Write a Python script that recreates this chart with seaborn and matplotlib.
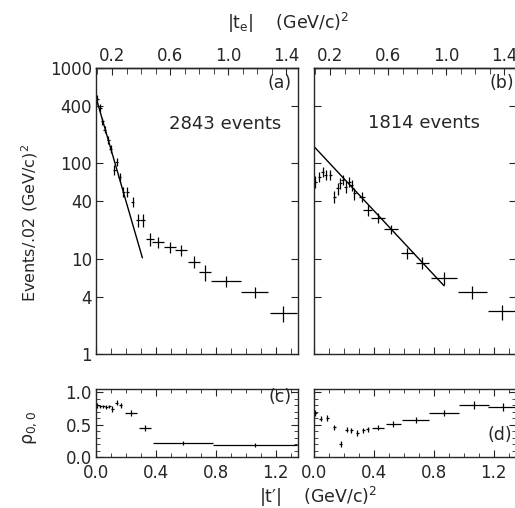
# Load the necessary libraries
import matplotlib
matplotlib.use("Agg")
import matplotlib.pyplot as plt
import matplotlib.ticker as mticker
import seaborn as sns
import numpy as np
import pandas as pd

##################
# Data (read off) #
##################

# Panel (a): events / .02 (GeV/c)^2 vs |t'|
t_a = [0.01, 0.027, 0.042, 0.06, 0.082, 0.10, 0.122, 0.138, 0.16, 0.182, 0.209, 0.244,
       0.282, 0.311, 0.36, 0.415, 0.493, 0.571, 0.653, 0.731, 0.87, 1.06, 1.25]
n_a = [470, 384, 277, 226, 177, 141, 85, 104, 72, 50, 50, 39.5,
       25.7, 25.7, 16.2, 14.9, 13.2, 12.2, 9.3, 7.2, 5.8, 4.5, 2.66]
dt_a = [0.01, 0.01, 0.01, 0.01, 0.01, 0.01, 0.01, 0.01, 0.01, 0.01, 0.01, 0.01,
        0.015, 0.015, 0.025, 0.04, 0.04, 0.04, 0.04, 0.04, 0.1, 0.09, 0.09]
dn_a = [50, 35, 25, 20, 16, 13, 10, 10, 8, 6, 6, 5,
        4, 4, 2.5, 2, 1.7, 1.6, 1.3, 1.3, 0.8, 0.6, 0.5]
fit_a_t = [0.0, 0.31]
fit_a_n = [490, 10.2]

# Panel (b)
t_b = [0.01, 0.036, 0.058, 0.08, 0.109, 0.136, 0.158, 0.176, 0.191, 0.213, 0.236,
       0.251, 0.269, 0.318, 0.358, 0.429, 0.513, 0.624, 0.724, 0.869, 1.058, 1.258]
n_b = [64, 72, 82, 75.5, 75.5, 44.6, 54.6, 61.6, 66.8, 57, 64,
       59, 48.3, 44.6, 32.2, 26.9, 20.3, 11.4, 9.0, 6.3, 4.5, 2.8]
dt_b = [0.01, 0.01, 0.01, 0.01, 0.01, 0.01, 0.01, 0.01, 0.01, 0.01, 0.01,
        0.01, 0.01, 0.02, 0.03, 0.047, 0.047, 0.045, 0.045, 0.09, 0.095, 0.095]
dn_b = [9, 9, 10, 9, 9, 6.5, 8, 8, 8, 8, 8,
        8, 7, 5, 4, 3, 2.2, 1.5, 1.3, 1.0, 0.7, 0.5]
fit_b_t = [0.0, 0.869]
fit_b_n = [150, 5.2]

# Panel (c): rho_00
t_c = [0.01, 0.03, 0.05, 0.07, 0.09, 0.11, 0.14, 0.165, 0.235, 0.33, 0.58, 1.06]
r_c = [0.80, 0.78, 0.78, 0.77, 0.78, 0.74, 0.84, 0.80, 0.68, 0.45, 0.21, 0.19]
dt_c = [0.01, 0.01, 0.01, 0.01, 0.01, 0.01, 0.01, 0.01, 0.04, 0.04, 0.2, 0.28]
dr_c = [0.04, 0.03, 0.03, 0.03, 0.03, 0.04, 0.04, 0.04, 0.04, 0.05, 0.03, 0.03]

# Panel (d)
t_d = [0.01, 0.045, 0.09, 0.135, 0.18, 0.22, 0.25, 0.29, 0.33, 0.36, 0.43, 0.53,
       0.68, 0.87, 1.07, 1.26]
r_d = [0.68, 0.59, 0.60, 0.46, 0.20, 0.42, 0.41, 0.37, 0.41, 0.43, 0.45, 0.51,
       0.57, 0.68, 0.80, 0.77]
dt_d = [0.01, 0.01, 0.01, 0.01, 0.01, 0.01, 0.01, 0.01, 0.01, 0.01, 0.04, 0.05,
        0.09, 0.1, 0.1, 0.1]
dr_d = [0.05, 0.04, 0.05, 0.04, 0.05, 0.04, 0.04, 0.04, 0.04, 0.04, 0.04, 0.04,
        0.04, 0.05, 0.06, 0.06]

count_ticks = [1, 4, 10, 40, 100, 400, 1000]
count_labels = ["1", "4", "10", "40", "100", "400", "1000"]
te_ticks = [0.2, 0.6, 1.0, 1.4]

###########
# Styling #
###########
sns.set_style("ticks")
plt.rcParams['font.family'] = ['DejaVu Sans']
plt.rcParams['mathtext.default'] = 'regular'
plt.rcParams['axes.linewidth'] = 1.0

fig = plt.figure(figsize=(5.15, 5.08), dpi=100)
W, H = 515, 508


def box(x0, y0, x1, y1):
    return [x0 / W, 1 - y1 / H, (x1 - x0) / W, (y1 - y0) / H]


ax_a = fig.add_axes(box(96, 68, 298, 354))
ax_b = fig.add_axes(box(314, 68, 516, 354))
ax_c = fig.add_axes(box(96, 389, 298, 457))
ax_d = fig.add_axes(box(314, 389, 516, 457))


def draw_points(ax, t, y, dt, dy):
    ax.errorbar(t, y, xerr=dt, yerr=dy, fmt='none', ecolor='black',
                elinewidth=0.9, capsize=0)


def te_fwd(t):
    return 1.029 * np.asarray(t) + 0.09


def te_inv(te):
    return (np.asarray(te) - 0.09) / 1.029


# Upper panels
for ax, t, n, dt, dn, ft, fn in [(ax_a, t_a, n_a, dt_a, dn_a, fit_a_t, fit_a_n),
                                 (ax_b, t_b, n_b, dt_b, dn_b, fit_b_t, fit_b_n)]:
    draw_points(ax, t, n, dt, dn)
    sns.lineplot(x=ft, y=fn, ax=ax, color='black', lw=1.0)
    ax.set_yscale('log')
    ax.set_ylim(1, 1000)
    ax.set_xlim(0, 1.35)
    ax.yaxis.set_major_locator(mticker.FixedLocator(count_ticks))
    ax.yaxis.set_minor_locator(mticker.NullLocator())
    ax.xaxis.set_major_locator(mticker.MultipleLocator(0.4))
    ax.xaxis.set_minor_locator(mticker.MultipleLocator(0.1))
    ax.set_xticklabels([])
    ax.tick_params(which='both', direction='in', top=False, right=True,
                   labelsize=12, pad=3)
    ax.tick_params(which='major', length=5)
    ax.tick_params(which='minor', length=4)
    sec = ax.secondary_xaxis('top', functions=(te_fwd, te_inv))
    sec.xaxis.set_major_locator(mticker.FixedLocator(te_ticks))
    sec.xaxis.set_minor_locator(mticker.MultipleLocator(0.1))
    sec.xaxis.set_major_formatter(mticker.FormatStrFormatter('%.1f'))
    sec.tick_params(which='both', direction='in', labelsize=12, pad=2)
    sec.tick_params(which='major', length=5)
    sec.tick_params(which='minor', length=4)
    ax.set_xlabel("")
    ax.set_ylabel("")

ax_a.yaxis.set_major_formatter(mticker.FixedFormatter(count_labels))
ax_b.set_yticklabels([])

ax_a.text(0.91, 0.948, "(a)", transform=ax_a.transAxes, ha='center', va='center', fontsize=12.5)
ax_b.text(0.93, 0.948, "(b)", transform=ax_b.transAxes, ha='center', va='center', fontsize=12.5)
ax_a.text(0.64, 0.804, "2843 events", transform=ax_a.transAxes, ha='center', va='center', fontsize=13)
ax_b.text(0.545, 0.808, "1814 events", transform=ax_b.transAxes, ha='center', va='center', fontsize=13)

# Lower panels
for ax, t, r, dt, dr in [(ax_c, t_c, r_c, dt_c, dr_c), (ax_d, t_d, r_d, dt_d, dr_d)]:
    draw_points(ax, t, r, dt, dr)
    ax.set_xlim(0, 1.35)
    ax.set_ylim(0, 1.05)
    ax.xaxis.set_major_locator(mticker.MultipleLocator(0.4))
    ax.xaxis.set_minor_locator(mticker.MultipleLocator(0.1))
    ax.xaxis.set_major_formatter(mticker.FormatStrFormatter('%.1f'))
    ax.yaxis.set_major_locator(mticker.FixedLocator([0.0, 0.5, 1.0]))
    ax.yaxis.set_minor_locator(mticker.MultipleLocator(0.1))
    ax.yaxis.set_major_formatter(mticker.FormatStrFormatter('%.1f'))
    ax.tick_params(which='both', direction='in', top=True, right=True,
                   labelsize=12, pad=3)
    ax.tick_params(axis='x', which='both', pad=5)
    ax.tick_params(which='major', length=5)
    ax.tick_params(which='minor', length=3)

ax_d.set_yticklabels([])
ax_c.text(0.91, 0.88, "(c)", transform=ax_c.transAxes, ha='center', va='center', fontsize=12.5)
ax_d.text(0.92, 0.32, "(d)", transform=ax_d.transAxes, ha='center', va='center', fontsize=12.5)

# Axis titles
fig.text(288 / W, 1 - 23 / H, "|t$_e$|    (GeV/c)$^2$", ha='center', va='center', fontsize=12.5)
fig.text(318 / W, 1 - 497 / H, "|t\u2032|    (GeV/c)$^2$", ha='center', va='center', fontsize=12.5)
fig.text(30 / W, 1 - 223 / H, "Events/.02 (GeV/c)$^2$", rotation=90, ha='center', va='center', fontsize=11.5)
fig.text(30 / W, 1 - 428 / H, r"$\rho_{0,0}$", rotation=90, ha='center', va='center', fontsize=12.5)

plt.savefig("out.png", dpi=100)
